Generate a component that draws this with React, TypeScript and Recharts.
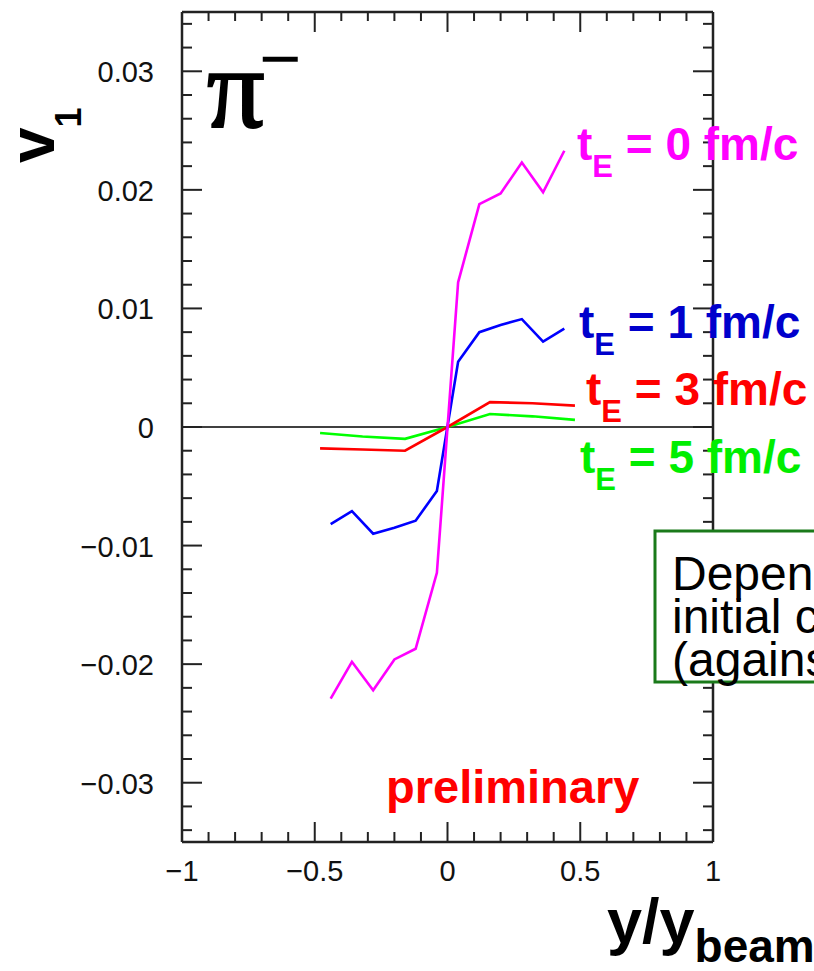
import React from 'react'
import { LineChart, Line, XAxis, YAxis, ReferenceLine } from 'recharts'

// rapidity y/y_beam vs v1, pi- , four expansion start times
const tE0 = [
  { x: -0.44, v: -0.0229 },
  { x: -0.36, v: -0.0198 },
  { x: -0.28, v: -0.0222 },
  { x: -0.2, v: -0.0196 },
  { x: -0.12, v: -0.0187 },
  { x: -0.04, v: -0.0123 },
  { x: 0.04, v: 0.0122 },
  { x: 0.12, v: 0.0188 },
  { x: 0.2, v: 0.0197 },
  { x: 0.28, v: 0.0223 },
  { x: 0.36, v: 0.0198 },
  { x: 0.44, v: 0.0233 },
]

const tE1 = [
  { x: -0.44, v: -0.0082 },
  { x: -0.36, v: -0.0071 },
  { x: -0.28, v: -0.009 },
  { x: -0.2, v: -0.0085 },
  { x: -0.12, v: -0.0079 },
  { x: -0.04, v: -0.0054 },
  { x: 0.04, v: 0.0055 },
  { x: 0.12, v: 0.008 },
  { x: 0.2, v: 0.0086 },
  { x: 0.28, v: 0.0091 },
  { x: 0.36, v: 0.0072 },
  { x: 0.44, v: 0.0083 },
]

const tE3 = [
  { x: -0.48, v: -0.0018 },
  { x: -0.32, v: -0.0019 },
  { x: -0.16, v: -0.002 },
  { x: 0, v: 0 },
  { x: 0.16, v: 0.0021 },
  { x: 0.32, v: 0.002 },
  { x: 0.48, v: 0.0018 },
]

const tE5 = [
  { x: -0.48, v: -0.0005 },
  { x: -0.32, v: -0.0008 },
  { x: -0.16, v: -0.001 },
  { x: 0, v: 0 },
  { x: 0.16, v: 0.0011 },
  { x: 0.32, v: 0.0009 },
  { x: 0.48, v: 0.0006 },
]

const xTicks = [
  -1, -0.9, -0.8, -0.7, -0.6, -0.5, -0.4, -0.3, -0.2, -0.1, 0,
  0.1, 0.2, 0.3, 0.4, 0.5, 0.6, 0.7, 0.8, 0.9, 1,
]

const yTicks = [
  -0.034, -0.032, -0.03, -0.028, -0.026, -0.024, -0.022, -0.02, -0.018,
  -0.016, -0.014, -0.012, -0.01, -0.008, -0.006, -0.004, -0.002, 0,
  0.002, 0.004, 0.006, 0.008, 0.01, 0.012, 0.014, 0.016, 0.018, 0.02,
  0.022, 0.024, 0.026, 0.028, 0.03, 0.032, 0.034,
]

const W = 814
const H = 971
const LEFT = 182
const RIGHT = 713
const TOP = 12
const BOTTOM = 842
const FONT = '"Liberation Sans", Arial, sans-serif'

function fmt(v: number) {
  if (Math.abs(v) < 1e-9) return '0'
  const s = String(Math.abs(v))
  return v < 0 ? '\u2212' + s : s
}

function YTick(props: any) {
  const { y, payload } = props
  const v = payload.value
  const major = Math.abs(v * 100 - Math.round(v * 100)) < 1e-6
  const len = major ? 20 : 10
  return (
    <g>
      <line x1={LEFT} x2={LEFT + len} y1={y} y2={y} stroke="#222" strokeWidth={2} />
      <line x1={RIGHT} x2={RIGHT - len} y1={y} y2={y} stroke="#222" strokeWidth={2} />
      {major && (
        <text x={LEFT - 28} y={y + 1} textAnchor="end" dominantBaseline="central" fontSize={29} fontFamily={FONT} fill="#111">
          {fmt(v)}
        </text>
      )}
    </g>
  )
}

function XTick(props: any) {
  const { x, payload } = props
  const v = payload.value
  const major = Math.abs(v * 2 - Math.round(v * 2)) < 1e-6
  const len = major ? 20 : 10
  return (
    <g>
      <line x1={x} x2={x} y1={BOTTOM} y2={BOTTOM - len} stroke="#222" strokeWidth={2} />
      <line x1={x} x2={x} y1={TOP} y2={TOP + (major ? 20 : 9)} stroke="#222" strokeWidth={2} />
      {major && (
        <text x={x} y={881} textAnchor="middle" fontSize={29} fontFamily={FONT} fill="#111">
          {fmt(v)}
        </text>
      )}
    </g>
  )
}

function Labels() {
  const lab = (txt: string, x: number, y: number, color: string) => (
    <text x={x} y={y} fill={color} fontSize={46} fontWeight="bold" fontFamily={FONT}>
      t<tspan dy={17} fontSize={31}>E</tspan>
      <tspan dy={-17}>{' = ' + txt + ' fm/c'}</tspan>
    </text>
  )
  return (
    <svg width={W} height={H} style={{ position: 'absolute', left: 0, top: 0, pointerEvents: 'none' }}>
      <text transform="translate(54,163) rotate(-90)" fontSize={64} fontWeight="bold" fontFamily={FONT} fill="#000">
        v<tspan dy={27} fontSize={36}>1</tspan>
      </text>
      <text fill="#000">
        <tspan x={207} y={127} fontSize={114} fontFamily='"Liberation Serif", serif' stroke="#000" strokeWidth={2.2}>π</tspan>
        <tspan x={259} y={83} fontSize={72} fontFamily={FONT}>−</tspan>
      </text>
      <text x={607} y={943} fontSize={63} fontWeight="bold" fontFamily={FONT} fill="#000">
        y/y<tspan dy={19} fontSize={46}>beam</tspan>
      </text>
      {lab('0', 577, 160, '#ff00ff')}
      {lab('1', 579, 338, '#0000cc')}
      {lab('3', 586, 405, '#ff0000')}
      {lab('5', 580, 473, '#00ee00')}
      <text x={386} y={803} fill="#ff0000" fontSize={47} fontWeight="bold" fontFamily={FONT}>
        preliminary
      </text>
      <rect x={655} y={531} width={220} height={151} fill="#fff" stroke="#1a7a1a" strokeWidth={3} />
      <g fontSize={48} fontFamily={FONT} fill="#000">
        <text x={672} y={590}>Dependence on</text>
        <text x={672} y={633}>initial conditions</text>
        <text x={672} y={676}>(against</text>
      </g>
    </svg>
  )
}

export default function App() {
  return (
    <div style={{ position: 'absolute', left: 0, top: 0, width: W, height: H, background: '#fff', overflow: 'hidden' }}>
      <LineChart
        width={W}
        height={H}
        margin={{ top: TOP, right: W - RIGHT, bottom: H - BOTTOM - 40, left: LEFT - 60 }}
      >
        <XAxis
          dataKey="x"
          type="number"
          domain={[-1, 1]}
          ticks={xTicks}
          interval={0}
          allowDataOverflow
          height={40}
          tick={<XTick />}
          tickLine={false}
          axisLine={{ stroke: '#222', strokeWidth: 2.5 }}
        />
        <YAxis
          type="number"
          domain={[-0.035, 0.035]}
          ticks={yTicks}
          interval={0}
          allowDataOverflow
          width={60}
          tick={<YTick />}
          tickLine={false}
          axisLine={{ stroke: '#222', strokeWidth: 2.5 }}
        />
        <ReferenceLine y={0.035} stroke="#222" strokeWidth={2.5} ifOverflow="visible" />
        <ReferenceLine x={1} stroke="#222" strokeWidth={2.5} ifOverflow="visible" />
        <ReferenceLine y={0} stroke="#000" strokeWidth={1.5} />
        <Line data={tE5} dataKey="v" stroke="#00ff00" strokeWidth={2.6} dot={false} isAnimationActive={false} />
        <Line data={tE3} dataKey="v" stroke="#ff0000" strokeWidth={2.6} dot={false} isAnimationActive={false} />
        <Line data={tE1} dataKey="v" stroke="#0000ff" strokeWidth={2.6} dot={false} isAnimationActive={false} />
        <Line data={tE0} dataKey="v" stroke="#ff00ff" strokeWidth={2.6} dot={false} isAnimationActive={false} />
      </LineChart>
      <Labels />
    </div>
  )
}
